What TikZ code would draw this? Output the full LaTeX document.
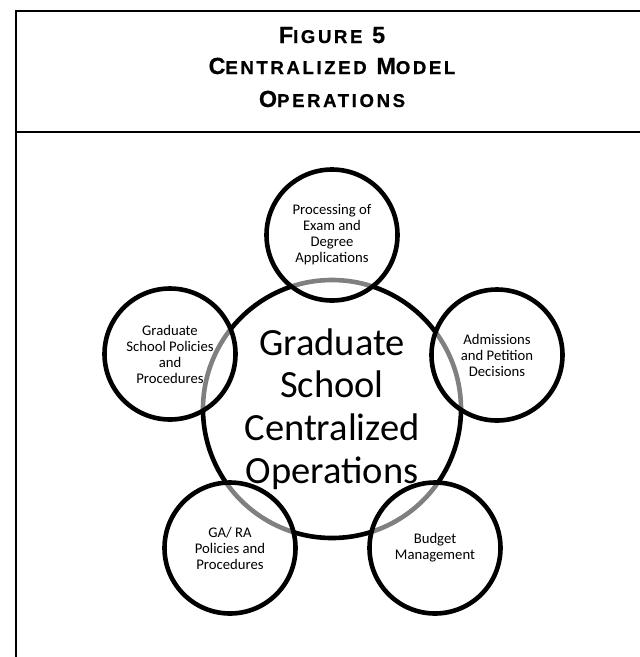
\documentclass[tikz,border=0pt]{standalone}
\usepackage{fontspec}
\setmainfont{Carlito}
\newfontfamily\titlefont{Liberation Sans}[LetterSpace=14,FakeBold=0.6]
\newcommand\bigsc[1]{{\fontsize{23.3}{28}\selectfont #1}}
\newcommand\smsc[1]{{\fontsize{18.6}{28}\selectfont #1}}
\begin{document}
\begin{tikzpicture}[x=1pt,y=-1pt,
  frameline/.style={line width=2.4pt},
  hub/.style={circle, draw, line width=4.6pt, minimum size=258pt, inner sep=0pt,
    align=center, font=\fontsize{38.5}{42.7}\selectfont},
  sat/.style={circle, draw, line width=4.6pt, minimum size=131pt, inner sep=0pt,
    fill=white, fill opacity=0.5, text opacity=1, align=center,
    font=\fontsize{14.7}{16}\selectfont},
  ttl/.style={anchor=base, inner sep=0pt, font=\titlefont\bfseries}]
\useasboundingbox (0,0) rectangle (640,657);
\draw[frameline] (640,11) -- (16,11) -- (16,657);
\draw[frameline] (16,132) -- (640,132);
\node[ttl] (t1) at (332,43) {\bigsc{F}\smsc{IGURE}\bigsc{ 5}};
\node[ttl] (t2) at (332,74) {\bigsc{C}\smsc{ENTRALIZED}\bigsc{ M}\smsc{ODEL}};
\node[ttl] (t3) at (332,107) {\bigsc{O}\smsc{PERATIONS}};
\node[hub] (hub) at (332,409) {Graduate\\School\\Centralized\\Operations};
\node[sat] (top) at (332,235) {Processing of\\Exam and\\Degree\\Applications};
\node[sat] (right) at (497,355) {Admissions\\and Petition\\Decisions};
\node[sat] (left) at (170,354) {Graduate\\School Policies\\and\\Procedures};
\node[sat] (bl) at (230,548) {GA/ RA\\Policies and\\Procedures};
\node[sat] (br) at (435,548) {Budget\\Management};
\end{tikzpicture}
\end{document}
